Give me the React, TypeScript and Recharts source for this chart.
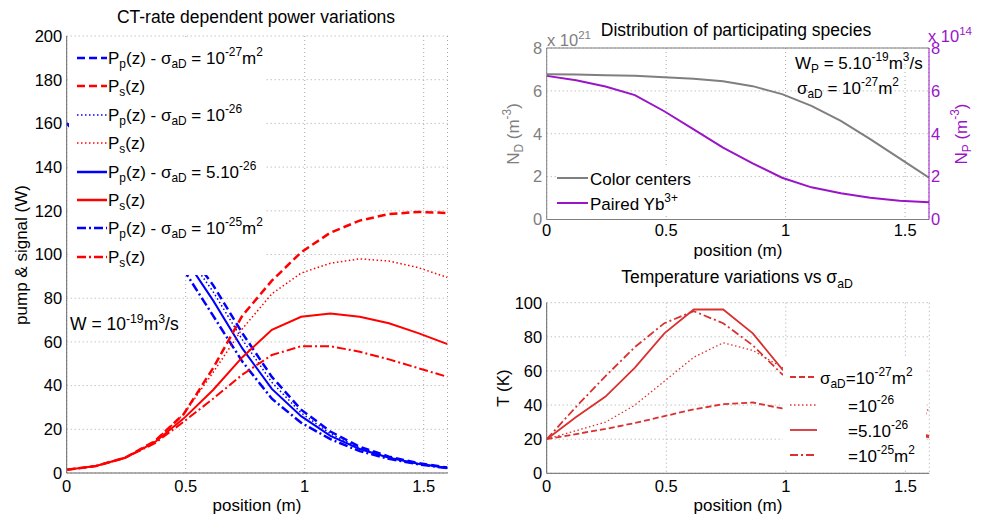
import React from 'react';
import { LineChart, Line, XAxis, YAxis, CartesianGrid, ReferenceLine } from 'recharts';

const FONT = '"Liberation Sans", Arial, Helvetica, sans-serif';

// sample positions along the fibre (m)
const position = [0, 0.123, 0.246, 0.369, 0.492, 0.615, 0.738, 0.862, 0.985, 1.108, 1.231, 1.354, 1.477, 1.6];

// pump power (W) for each sigma_aD
const pump27 = [160, 150, 138, 122, 104, 86, 64, 44, 29, 19, 12, 7.5, 4.5, 2.5];
const pump26 = [160, 149, 136, 120, 102, 83, 61, 41.5, 27.5, 18, 11.5, 7.2, 4.3, 2.4];
const pump5x26 = [160, 148, 134, 117, 99, 79, 57, 38.5, 26, 17, 11, 7, 4.2, 2.3];
const pump25 = [160, 146, 130, 112, 93, 72, 51, 34, 23, 15.5, 10, 6.5, 4, 2.2];

// signal power (W)
const sig27 = [1.5, 3.2, 7, 14.5, 27, 48, 72, 88, 101, 110, 115.5, 118.5, 119.5, 119];
const sig26 = [1.5, 3.2, 7, 14.5, 27, 46, 66, 82, 91.5, 96, 98, 97, 94, 89.5];
const sig5x26 = [1.5, 3.2, 7, 14, 25, 38, 53, 65.5, 71.5, 73, 71.5, 68.5, 64, 59];
const sig25 = [1.5, 3.2, 7, 13.5, 23.5, 34, 45, 54, 58, 58, 55.5, 52, 48, 44];

// species (x1e21 and x1e14 m^-3)
const colorCenters = [6.78, 6.76, 6.73, 6.7, 6.64, 6.57, 6.45, 6.22, 5.85, 5.3, 4.6, 3.75, 2.85, 1.95];
const pairedYb = [6.7, 6.5, 6.2, 5.8, 5.05, 4.2, 3.35, 2.62, 1.95, 1.5, 1.22, 1.02, 0.88, 0.8];

// temperature (K)
const temp27 = [20, 23, 26, 29.5, 33.5, 37.5, 40.5, 41.5, 38, 37, 36.5, 36, 35.5, 35];
const temp26 = [20, 25, 30, 40, 54, 68, 76.5, 72, 62, 54, 48, 43, 39, 37];
const temp5x26 = [20, 33, 45, 62, 82, 96, 96, 82, 61, 50, 40, 32, 26, 22];
const temp25 = [20, 39, 57, 74, 88, 95, 88, 75, 58, 48, 38, 30, 25, 21];

const xTicks = [0, 0.5, 1, 1.5];
const powerTicks = [0, 20, 40, 60, 80, 100, 120, 140, 160, 180, 200];
const speciesTicks = [0, 2, 4, 6, 8];
const tempTicks = [0, 20, 40, 60, 80, 100];

const powerData = position.map((x, i) => ({
  x, pump27: pump27[i], pump26: pump26[i], pump5x26: pump5x26[i], pump25: pump25[i],
  sig27: sig27[i], sig26: sig26[i], sig5x26: sig5x26[i], sig25: sig25[i],
}));
const speciesData = position.map((x, i) => ({ x, nd: colorCenters[i], np: pairedYb[i] }));
const tempData = position.map((x, i) => ({ x, t27: temp27[i], t26: temp26[i], t5x26: temp5x26[i], t25: temp25[i] }));

const BLUE = '#0000ff';
const RED = '#ff0000';
const TRED = '#d93030';
const GRAY = '#7f7f7f';
const PURPLE = '#9a14c8';

const DASH = '8 4';
const DOT = '1.5 2.5';
const DASHDOT = '9 3 2 3';

const fmt = (v: number) => String(v);

const Sub = ({ children }: { children: React.ReactNode }) => (
  <sub style={{ fontSize: '0.7em', verticalAlign: '-0.35em', lineHeight: 0 }}>{children}</sub>
);
const Sup = ({ children }: { children: React.ReactNode }) => (
  <sup style={{ fontSize: '0.7em', verticalAlign: '0.6em', lineHeight: 0 }}>{children}</sup>
);

function Txt({ x, y, size = 17, color = '#000', align = 'left', rotate = false, children }: any) {
  let transform = 'translateY(-50%)';
  if (align === 'center') transform = 'translate(-50%,-50%)';
  if (rotate) transform = 'translate(-50%,-50%) rotate(-90deg)';
  return (
    <div style={{ position: 'absolute', left: x, top: y, transform, fontSize: size, color, fontFamily: FONT, lineHeight: 1, whiteSpace: 'nowrap' }}>
      {children}
    </div>
  );
}

function Swatch({ x, y, w, stroke, dash, sw = 2 }: any) {
  return (
    <svg style={{ position: 'absolute', left: x, top: y - 4 }} width={w} height={8}>
      <line x1={0} y1={4} x2={w} y2={4} stroke={stroke} strokeWidth={sw} strokeDasharray={dash} />
    </svg>
  );
}

const tickStyle = { fill: '#000', fontSize: 16.5, fontFamily: FONT };

export default function App() {
  const powerLegend = [
    { stroke: BLUE, dash: DASH, text: <>P<Sub>p</Sub>(z) - σ<Sub>aD</Sub> = 10<Sup>-27</Sup>m<Sup>2</Sup></> },
    { stroke: RED, dash: DASH, text: <>P<Sub>s</Sub>(z)</> },
    { stroke: BLUE, dash: DOT, text: <>P<Sub>p</Sub>(z) - σ<Sub>aD</Sub> = 10<Sup>-26</Sup></> },
    { stroke: RED, dash: DOT, text: <>P<Sub>s</Sub>(z)</> },
    { stroke: BLUE, dash: undefined, text: <>P<Sub>p</Sub>(z) - σ<Sub>aD</Sub> = 5.10<Sup>-26</Sup></> },
    { stroke: RED, dash: undefined, text: <>P<Sub>s</Sub>(z)</> },
    { stroke: BLUE, dash: DASHDOT, text: <>P<Sub>p</Sub>(z) - σ<Sub>aD</Sub> = 10<Sup>-25</Sup>m<Sup>2</Sup></> },
    { stroke: RED, dash: DASHDOT, text: <>P<Sub>s</Sub>(z)</> },
  ];
  const rowsY = [58.3, 86, 115, 142.7, 171.7, 200, 228.3, 256.7];

  const tempLegend = [
    { dash: '6 3', x: 820, y: 377, text: <>σ<Sub>aD</Sub>=10<Sup>-27</Sup>m<Sup>2</Sup></> },
    { dash: DOT, x: 848, y: 405, text: <>=10<Sup>-26</Sup></> },
    { dash: undefined, x: 848, y: 430, text: <>=5.10<Sup>-26</Sup></> },
    { dash: '8 3 2 3', x: 848, y: 455, text: <>=10<Sup>-25</Sup>m<Sup>2</Sup></> },
  ];

  return (
    <div style={{ position: 'absolute', left: 0, top: 0, width: 983, height: 514, background: '#fff', fontFamily: FONT }}>
      {/* left: power variations */}
      <div style={{ position: 'absolute', left: 0, top: 0 }}>
        <LineChart width={460} height={514} data={powerData} margin={{ top: 36, right: 12.5, bottom: 0, left: 0 }}>
          <CartesianGrid stroke="#a8a8a8" strokeDasharray="1 3" />
          <XAxis type="number" dataKey="x" domain={[0, 1.6]} ticks={xTicks} allowDataOverflow height={41}
            tickLine={false} tickSize={5} tickMargin={2} axisLine={{ stroke: '#666' }} tick={tickStyle} tickFormatter={fmt} />
          <YAxis type="number" domain={[0, 200]} ticks={powerTicks} width={66.7}
            tickLine={false} tickSize={3} tickMargin={1.5} axisLine={{ stroke: '#666' }} tick={tickStyle} />
          <Line dataKey="pump27" stroke={BLUE} strokeWidth={2.5} strokeDasharray={DASH} dot={false} isAnimationActive={false} />
          <Line dataKey="pump26" stroke={BLUE} strokeWidth={1.5} strokeDasharray={DOT} dot={false} isAnimationActive={false} />
          <Line dataKey="pump5x26" stroke={BLUE} strokeWidth={2} dot={false} isAnimationActive={false} />
          <Line dataKey="pump25" stroke={BLUE} strokeWidth={2.5} strokeDasharray={DASHDOT} dot={false} isAnimationActive={false} />
          <Line dataKey="sig27" stroke={RED} strokeWidth={2.5} strokeDasharray={DASH} dot={false} isAnimationActive={false} />
          <Line dataKey="sig26" stroke={RED} strokeWidth={1.5} strokeDasharray={DOT} dot={false} isAnimationActive={false} />
          <Line dataKey="sig5x26" stroke={RED} strokeWidth={2} dot={false} isAnimationActive={false} />
          <Line dataKey="sig25" stroke={RED} strokeWidth={2} strokeDasharray={DASHDOT} dot={false} isAnimationActive={false} />
        </LineChart>
      </div>
      <div style={{ position: 'absolute', left: 69, top: 38, width: 196, height: 237, background: '#fff' }} />
      {powerLegend.map((r, i) => (
        <React.Fragment key={i}>
          <Swatch x={77} y={rowsY[i]} w={30} stroke={r.stroke} dash={r.dash} sw={r.dash === DOT ? 1.5 : 2.5} />
          <Txt x={108} y={rowsY[i]} size={17}>{r.text}</Txt>
        </React.Fragment>
      ))}
      <Txt x={256} y={18} size={17.5} align="center">CT-rate dependent power variations</Txt>
      <Txt x={21} y={255} size={17} rotate>pump &amp; signal (W)</Txt>
      <Txt x={257} y={505} size={17} align="center">position (m)</Txt>
      <Txt x={70} y={325} size={17.5}>W = 10<Sup>-19</Sup>m<Sup>3</Sup>/s</Txt>

      {/* top right: species distribution */}
      <div style={{ position: 'absolute', left: 480, top: 0 }}>
        <LineChart width={503} height={260} data={speciesData} margin={{ top: 48, right: 14, bottom: 0, left: 0 }}>
          <CartesianGrid yAxisId="nd" stroke="#a8a8a8" strokeDasharray="1 3" />
          <XAxis type="number" dataKey="x" domain={[0, 1.6]} ticks={xTicks} allowDataOverflow height={40.5}
            tickLine={false} tickSize={3} tickMargin={2} axisLine={{ stroke: GRAY }} tick={tickStyle} tickFormatter={fmt} />
          <YAxis yAxisId="nd" orientation="left" type="number" domain={[0, 8]} ticks={speciesTicks} width={66.7}
            tickLine={false} tickSize={3} tickMargin={1.5} axisLine={{ stroke: GRAY }} tick={{ ...tickStyle, fill: GRAY }} />
          <YAxis yAxisId="np" orientation="right" type="number" domain={[0, 8]} ticks={speciesTicks} width={40}
            tickLine={false} tickSize={1} tickMargin={1} axisLine={{ stroke: PURPLE }} tick={{ ...tickStyle, fill: PURPLE }} />
          <ReferenceLine yAxisId="nd" y={8} stroke={GRAY} />
          <Line yAxisId="nd" dataKey="nd" stroke={GRAY} strokeWidth={2} dot={false} isAnimationActive={false} />
          <Line yAxisId="np" dataKey="np" stroke={PURPLE} strokeWidth={2} dot={false} isAnimationActive={false} />
        </LineChart>
      </div>
      <Txt x={736} y={31} size={17.5} align="center">Distribution of participating species</Txt>
      <Txt x={547} y={40} size={16.5} color={GRAY}>x 10<Sup>21</Sup></Txt>
      <Txt x={928} y={36} size={16.5} color={PURPLE}>x 10<Sup>14</Sup></Txt>
      <Txt x={513} y={134} size={17} color={GRAY} rotate>N<Sub>D</Sub> (m<Sup>-3</Sup>)</Txt>
      <Txt x={961} y={134} size={17} color={PURPLE} rotate>N<Sub>P</Sub> (m<Sup>-3</Sup>)</Txt>
      <Txt x={738} y={250} size={17} align="center">position (m)</Txt>
      <Txt x={795} y={63} size={17}>W<Sub>P</Sub> = 5.10<Sup>-19</Sup>m<Sup>3</Sup>/s</Txt>
      <Txt x={797} y={88} size={17}>σ<Sub>aD</Sub> = 10<Sup>-27</Sup>m<Sup>2</Sup></Txt>
      <div style={{ position: 'absolute', left: 556, top: 166, width: 142, height: 50, background: '#fff' }} />
      <Swatch x={557} y={178} w={31} stroke={GRAY} sw={2} />
      <Txt x={590} y={179} size={17}>Color centers</Txt>
      <Swatch x={557} y={203} w={31} stroke={PURPLE} sw={2} />
      <Txt x={590} y={204} size={17}>Paired Yb<Sup>3+</Sup></Txt>

      {/* bottom right: temperature */}
      <div style={{ position: 'absolute', left: 480, top: 250 }}>
        <LineChart width={503} height={264} data={tempData} margin={{ top: 52.7, right: 53.7, bottom: 0, left: 0 }}>
          <CartesianGrid stroke="#a8a8a8" strokeDasharray="1 3" />
          <XAxis type="number" dataKey="x" domain={[0, 1.6]} ticks={xTicks} allowDataOverflow height={40.7}
            tickLine={false} tickSize={5} tickMargin={2} axisLine={{ stroke: '#666' }} tick={tickStyle} tickFormatter={fmt} />
          <YAxis type="number" domain={[0, 100]} ticks={tempTicks} width={66.7}
            tickLine={false} tickSize={3} tickMargin={1.5} axisLine={{ stroke: '#666' }} tick={tickStyle} />
          <Line dataKey="t27" stroke={TRED} strokeWidth={1.8} strokeDasharray="6 3" dot={false} isAnimationActive={false} />
          <Line dataKey="t26" stroke={TRED} strokeWidth={1.3} strokeDasharray={DOT} dot={false} isAnimationActive={false} />
          <Line dataKey="t5x26" stroke={TRED} strokeWidth={1.8} dot={false} isAnimationActive={false} />
          <Line dataKey="t25" stroke={TRED} strokeWidth={1.8} strokeDasharray="8 3 2 3" dot={false} isAnimationActive={false} />
        </LineChart>
      </div>
      <div style={{ position: 'absolute', left: 783, top: 357, width: 143, height: 113, background: '#fff' }} />
      {tempLegend.map((r, i) => (
        <React.Fragment key={i}>
          <Swatch x={790} y={r.y} w={27} stroke={TRED} dash={r.dash} sw={r.dash === DOT ? 1.3 : 1.8} />
          <Txt x={r.x} y={r.y + 1} size={17}>{r.text}</Txt>
        </React.Fragment>
      ))}
      <Txt x={737} y={278} size={17.5} align="center">Temperature variations vs σ<Sub>aD</Sub></Txt>
      <Txt x={503} y={388} size={17} rotate>T (K)</Txt>
      <Txt x={738} y={505} size={17} align="center">position (m)</Txt>
    </div>
  );
}
